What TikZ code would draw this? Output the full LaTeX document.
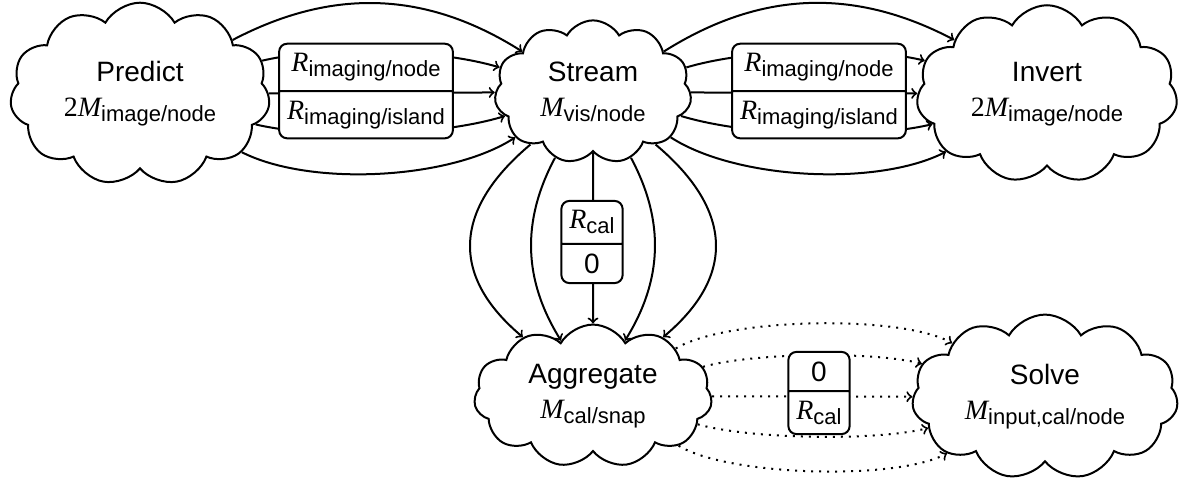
\documentclass[tikz,border=0pt]{standalone}
\usepackage{fontspec}
\setmainfont{Liberation Sans}
\newfontfamily\serifface{Liberation Serif}
\usetikzlibrary{shapes.symbols,shapes.multipart}
\newcommand\vR{{\serifface\itshape R}}
\newcommand\vM{{\serifface\itshape M}}
\newcommand\vtwo{{\serifface 2}}
\newcommand\subs[1]{\raisebox{-2.5pt}{\fontsize{11}{12}\selectfont #1}}
\begin{document}
\begin{tikzpicture}[x=0.5pt,y=-0.5pt,
  every node/.style={font=\fontsize{14}{17.5}\selectfont},
  cloudnode/.style={cloud, draw, line width=1pt, cloud puffs=11, cloud puff arc=120, inner sep=0pt, align=center},
  boxnode/.style={rectangle split, rectangle split parts=2, draw, fill=white, line width=1pt, rounded corners=4pt, inner xsep=4pt, inner ysep=4.35pt},
  conn/.style={->, line width=1pt},
  dotconn/.style={->, line width=1pt, dash pattern=on 1pt off 3pt}]
\useasboundingbox (0,0) rectangle (1180,479);
\node[cloudnode, minimum width=130pt, minimum height=71.5pt, aspect=1.4] (P) at (140,94) {Predict\\ \vtwo\vM\subs{image/node}};
\node[cloudnode, minimum width=98.5pt, minimum height=60pt, aspect=1.2] (S) at (593,92) {Stream\\ \vM\subs{vis/node}};
\node[cloudnode, minimum width=130.5pt, minimum height=71.5pt, aspect=1.45] (I) at (1047,94) {Invert\\ \vtwo\vM\subs{image/node}};
\node[cloudnode, minimum width=119pt, minimum height=67.5pt, aspect=1.55] (A) at (593,396) {Aggregate\\ \vM\subs{cal/snap}};
\node[cloudnode, minimum width=133pt, minimum height=69pt, aspect=1.7] (V) at (1045,397) {Solve\\ \vM\subs{input,cal/node}};
% Predict -> Stream
\draw[conn] (P) to[bend left=30] (S);
\draw[conn] (P) to[bend left=15, looseness=0.7] (S);
\draw[conn] (P) -- (S);
\draw[conn] (P) to[bend right=15, looseness=0.7] (S);
\draw[conn] (P) to[bend right=30, looseness=0.72] (S);
% Stream -> Invert
\draw[conn] (S) to[bend left=30] (I);
\draw[conn] (S) to[bend left=15, looseness=0.7] (I);
\draw[conn] (S) -- (I);
\draw[conn] (S) to[bend right=15, looseness=0.7] (I);
\draw[conn] (S) to[bend right=30, looseness=0.72] (I);
% Stream -> Aggregate
\draw[conn] (S) to[out=220,in=140,looseness=1.3] (A);
\draw[conn] (S) to[bend right=30] (A);
\draw[conn] (S) -- (A);
\draw[conn] (S) to[bend left=30] (A);
\draw[conn] (S) to[out=320,in=40,looseness=1.3] (A);
% Aggregate -> Solve
\draw[dotconn] (A) to[bend left=30, looseness=0.55] (V);
\draw[dotconn] (A) to[bend left=15, looseness=0.6] (V);
\draw[dotconn] (A) -- (V);
\draw[dotconn] (A) to[bend right=15, looseness=0.6] (V);
\draw[dotconn] (A) to[bend right=30, looseness=0.55] (V);
% boxes
\node[boxnode] (B1) at (366,91) {\vR\subs{imaging/node}\nodepart{two}\vR\subs{imaging/island}};
\node[boxnode] (B2) at (819,91) {\vR\subs{imaging/node}\nodepart{two}\vR\subs{imaging/island}};
\node[boxnode] (B3) at (592,242) {\vR\subs{cal}\nodepart{two}0};
\node[boxnode] (B4) at (819,393) {0\nodepart{two}\vR\subs{cal}};
\end{tikzpicture}
\end{document}
